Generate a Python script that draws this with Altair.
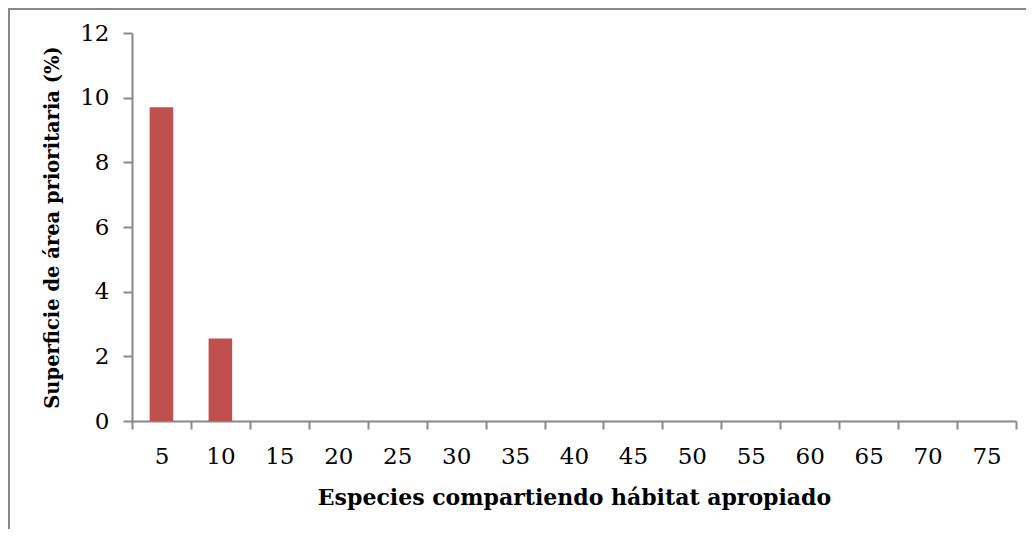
import altair as alt
import pandas as pd

categories = [5, 10, 15, 20, 25, 30, 35, 40, 45, 50, 55, 60, 65, 70, 75]
values = [9.7, 2.55, 0, 0, 0, 0, 0, 0, 0, 0, 0, 0, 0, 0, 0]
y_ticks = [0, 2, 4, 6, 8, 10, 12]

df = pd.DataFrame({"cat": [str(c) for c in categories], "val": values})

FONT = "DejaVu Serif"
GRAY = "#888888"

bars = alt.Chart(df).mark_bar(color="#C0504D", width={"band": 0.4}).encode(
    x=alt.X(
        "cat:N",
        sort=[str(c) for c in categories],
        scale=alt.Scale(paddingInner=0, paddingOuter=0),
        axis=alt.Axis(
            title="Especies compartiendo hábitat apropiado",
            labelAngle=0,
            tickBand="extent",
            tickSize=8,
            labelPadding=16,
            titlePadding=19,
            titleFontSize=22,
        ),
    ),
    y=alt.Y(
        "val:Q",
        scale=alt.Scale(domain=[0, 12], nice=False),
        axis=alt.Axis(
            title="Superficie de área prioritaria (%)",
            values=y_ticks,
            grid=False,
            tickSize=9,
            labelPadding=14,
            titlePadding=17,
            titleFontSize=19.5,
        ),
    ),
)

# outer frame of the chart (left and top edges, as in the reference)
frame_left = alt.Chart(df).mark_rule(color=GRAY, strokeWidth=2, clip=False).encode(
    x=alt.value(-123), y=alt.value(-25), y2=alt.value(540)
)
frame_top = alt.Chart(df).mark_rule(color=GRAY, strokeWidth=2, clip=False).encode(
    x=alt.value(-124), x2=alt.value(900), y=alt.value(-24)
)

chart = alt.layer(bars, frame_left, frame_top).properties(
    width=884,
    height=388,
    padding={"left": 124, "top": 25, "right": 10, "bottom": 108},
    autosize=alt.AutoSizeParams(type="none"),
).configure_view(stroke=None).configure_axis(
    domainColor=GRAY,
    domainWidth=2,
    tickColor=GRAY,
    tickWidth=2,
    labelFont=FONT,
    labelFontSize=23,
    labelColor="#000000",
    titleFont=FONT,
    titleFontWeight="bold",
    titleColor="#000000",
)

chart.save("out.html", embed_options={"renderer": "svg", "actions": False})
